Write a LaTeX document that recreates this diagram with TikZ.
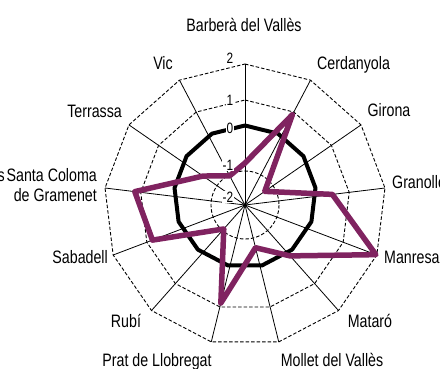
\documentclass[tikz,border=0pt]{standalone}
\usepackage{fontspec}
\setmainfont{Liberation Sans}[FakeStretch=0.79]
\definecolor{plum}{RGB}{128,35,96}
\begin{document}
\begin{tikzpicture}[x=1pt,y=-1pt,
  lab/.style={font=\fontsize{18}{20}\selectfont, inner sep=0pt, anchor=base},
  tick/.style={font=\fontsize{15}{17}\selectfont, inner sep=0.6pt, fill=white, anchor=east},
  spoke/.style={line width=0.8pt},
  ring/.style={line width=0.9pt, dash pattern=on 3.5pt off 2pt},
  zero/.style={line width=4pt, line join=round},
  series/.style={draw=plum, line width=5.5pt, line join=round}]
\useasboundingbox (0,0) rectangle (440,368);
\coordinate (c) at (245,205);
\foreach \i in {0,...,12}{
  \pgfmathsetmacro\a{\i*360/13}
  \coordinate (o\i) at ({245+141*sin(\a)},{205-141*cos(\a)});
  \coordinate (m\i) at ({245+105*sin(\a)},{205-105*cos(\a)});
  \coordinate (z\i) at ({245+71*sin(\a)},{196.5-71*cos(\a)});
}
\foreach \r [count=\i from 0] in {42,102,24,88,140,68,44,101,32,99,111,51,33}{
  \pgfmathsetmacro\a{\i*360/13}
  \coordinate (p\i) at ({245+\r*sin(\a)},{205-\r*cos(\a)});
}
% spokes
\foreach \i in {0,...,12}{\draw[spoke] (c) -- (o\i);}
% grid rings
\draw[ring] (o0) \foreach \i in {1,...,12}{ -- (o\i)} -- cycle;
\draw[ring] (m0) \foreach \i in {1,...,12}{ -- (m\i)} -- cycle;
\draw[ring] (c) circle[radius=34];
% zero ring
\draw[zero] (z0) \foreach \i in {1,...,12}{ -- (z\i)} -- cycle;
% data series
\draw[series] (p0) \foreach \i in {1,...,12}{ -- (p\i)} -- cycle;
% tick labels
\node[tick] (t2) at (234,58) {2};
\node[tick] (t1) at (234,100) {1};
\node[tick] (t0) at (234,128) {0};
\node[tick] (tm1) at (234,165) {-1};
\node[tick] (tm2) at (234,197) {-2};
% axis labels
\node[lab] (l0) at (244,31) {Barberà del Vallès};
\node[lab, anchor=base west] (l1) at (317,69.5) {Cerdanyola};
\node[lab] (l2) at (389,116.5) {Girona};
\node[lab, anchor=base west] (l3) at (392,188.5) {Granollers};
\node[lab, anchor=base west] (l4) at (384,263.5) {Manresa};
\node[lab] (l5) at (370,327.5) {Mataró};
\node[lab] (l6) at (332,366) {Mollet del Vallès};
\node[lab] (l7) at (157,366) {Prat de Llobregat};
\node[lab] (l8) at (126,327) {Rubí};
\node[lab, anchor=base east] (l9) at (108,263) {Sabadell};
\node[lab, anchor=base east] (l10a) at (97,181.5) {Santa Coloma};
\node[lab, anchor=base east] (l10b) at (97,201.5) {de Gramenet};
\node[lab, anchor=base east] (l10s) at (5,181.5) {s};
\node[lab, anchor=base east] (l11) at (122,117.5) {Terrassa};
\node[lab] (l12) at (163,69.5) {Vic};
\end{tikzpicture}
\end{document}
